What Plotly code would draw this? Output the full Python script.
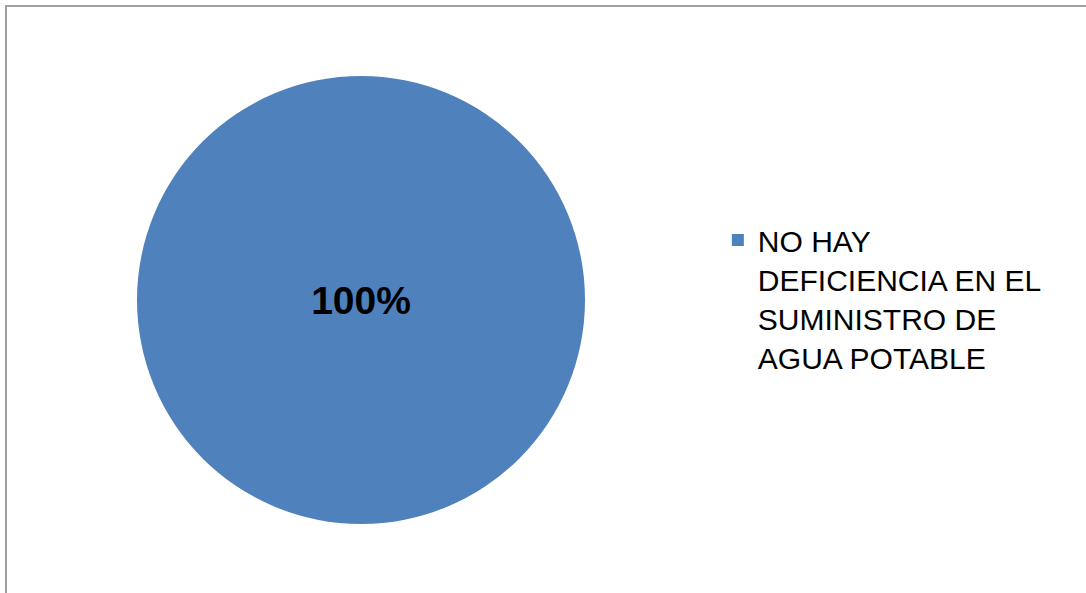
import plotly.graph_objects as go

labels = ["NO HAY<br>DEFICIENCIA EN EL<br>SUMINISTRO DE<br>AGUA POTABLE"]
values = [100]
colors = ["#4F81BD"]

W, H = 1086, 593
cx, cy, r = 361, 300, 224

fig = go.Figure(go.Pie(
    labels=labels,
    values=values,
    marker=dict(colors=colors, line=dict(width=0)),
    textinfo="percent",
    textposition="inside",
    insidetextfont=dict(family="Liberation Sans, Arial, sans-serif", size=39, color="black", weight="bold"),
    sort=False,
    hoverinfo="skip",
    domain=dict(x=[(cx - r) / W, (cx + r) / W], y=[(H - cy - r) / H, (H - cy + r) / H]),
))

fig.update_layout(
    width=W, height=H,
    margin=dict(l=0, r=0, t=0, b=0),
    paper_bgcolor="white",
    plot_bgcolor="white",
    font=dict(family="Liberation Sans, Arial, sans-serif", color="black"),
    showlegend=True,
    legend=dict(
        x=0.661, y=0.639, xanchor="left", yanchor="top",
        font=dict(size=30, color="black"),
        valign="top",
        bgcolor="rgba(0,0,0,0)",
    ),
    shapes=[dict(
        type="rect", xref="paper", yref="paper",
        x0=6 / W, x1=1.02, y0=-0.02, y1=1 - 6 / H,
        line=dict(color="#a0a0a0", width=2),
        fillcolor="rgba(0,0,0,0)",
        layer="below",
    )],
)

fig.write_html(
    "out.html",
    config={"displayModeBar": False},
    post_script="document.body.style.margin='0';document.body.style.padding='0';",
)
